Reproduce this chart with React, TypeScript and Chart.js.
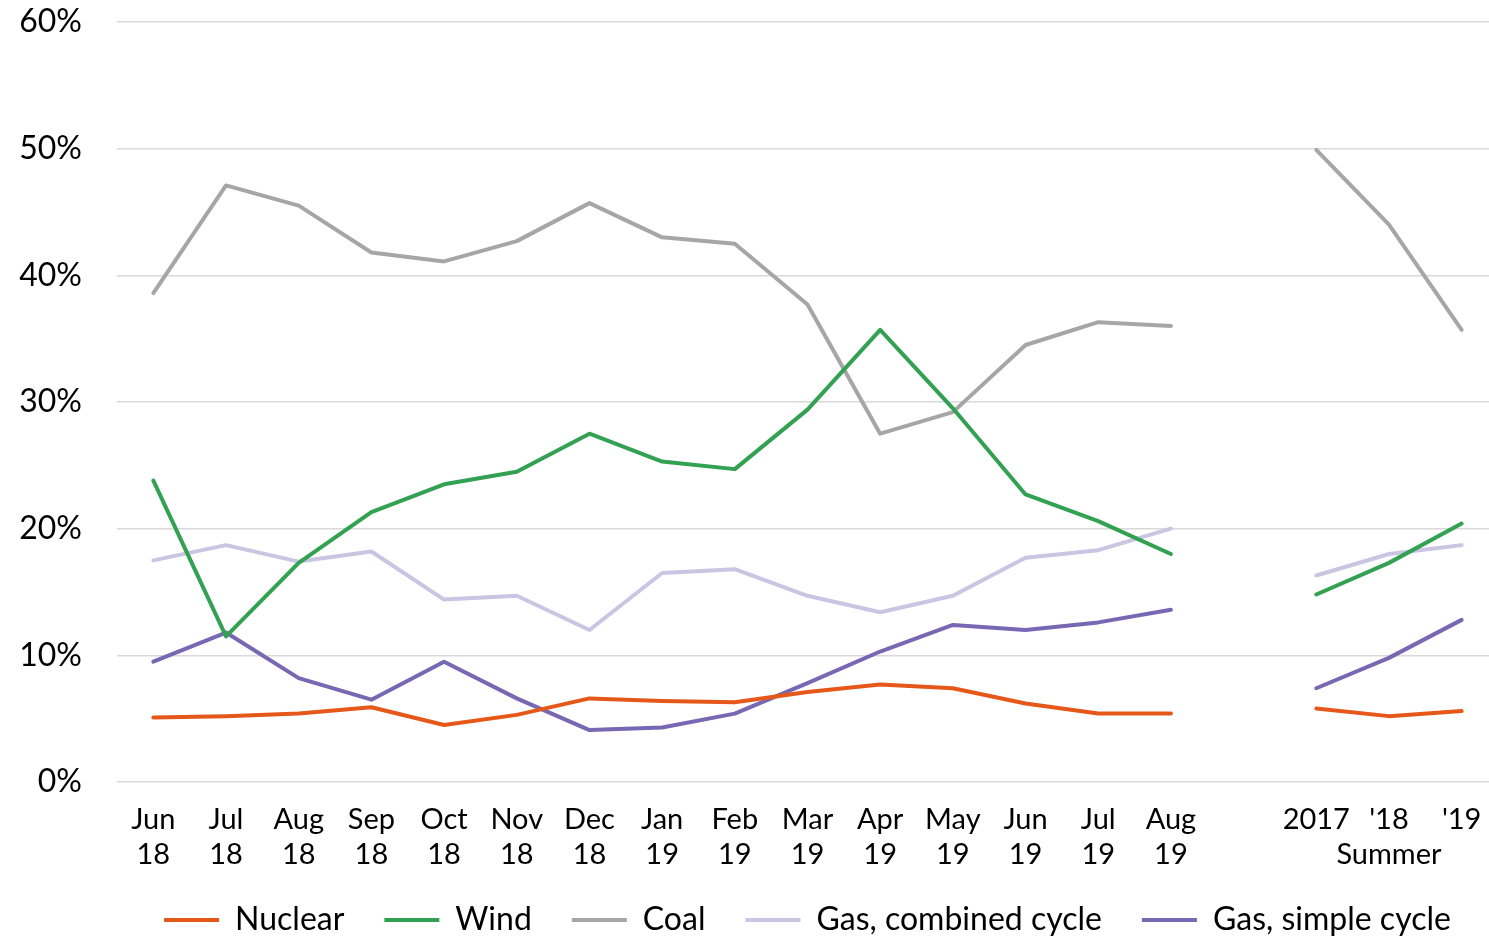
import React, { useEffect, useRef } from "react";
import { Chart, registerables } from "chart.js";

Chart.register(...registerables);

const categories: (string | string[])[] = [
  ["Jun", "18"], ["Jul", "18"], ["Aug", "18"], ["Sep", "18"], ["Oct", "18"],
  ["Nov", "18"], ["Dec", "18"], ["Jan", "19"], ["Feb", "19"], ["Mar", "19"],
  ["Apr", "19"], ["May", "19"], ["Jun", "19"], ["Jul", "19"], ["Aug", "19"],
  "",
  "2017", ["'18", "Summer"], "'19",
];

const nuclear = [5.1, 5.2, 5.4, 5.9, 4.5, 5.3, 6.6, 6.4, 6.3, 7.1, 7.7, 7.4, 6.2, 5.4, 5.4, null, 5.8, 5.2, 5.6];
const wind = [23.8, 11.5, 17.3, 21.3, 23.5, 24.5, 27.5, 25.3, 24.7, 29.4, 35.7, 29.5, 22.7, 20.6, 18.0, null, 14.8, 17.3, 20.4];
const coal = [38.6, 47.1, 45.5, 41.8, 41.1, 42.7, 45.7, 43.0, 42.5, 37.7, 27.5, 29.2, 34.5, 36.3, 36.0, null, 49.9, 44.0, 35.7];
const gasCombined = [17.5, 18.7, 17.4, 18.2, 14.4, 14.7, 12.0, 16.5, 16.8, 14.7, 13.4, 14.7, 17.7, 18.3, 20.0, null, 16.3, 18.0, 18.7];
const gasSimple = [9.5, 11.8, 8.2, 6.5, 9.5, 6.6, 4.1, 4.3, 5.4, 7.8, 10.3, 12.4, 12.0, 12.6, 13.6, null, 7.4, 9.8, 12.8];

const yTicks = [0, 10, 20, 30, 40, 50, 60];

const FONT = "Lato, 'Noto Sans', sans-serif";

export default function App() {
  const ref = useRef<HTMLCanvasElement | null>(null);

  useEffect(() => {
    document.body.style.margin = "0";
    const ctx = ref.current;
    if (!ctx) return;
    const mk = (label: string, data: (number | null)[], color: string) => ({
      label,
      data,
      borderColor: color,
      backgroundColor: color,
      borderWidth: 4,
      pointRadius: 0,
      pointHoverRadius: 0,
      tension: 0,
      spanGaps: false,
      borderCapStyle: "round" as const,
      borderJoinStyle: "round" as const,
      fill: false,
    });
    const chart = new Chart(ctx, {
      type: "line",
      data: {
        labels: categories,
        datasets: [
          mk("Nuclear", nuclear, "#E5581A"),
          mk("Wind", wind, "#32A152"),
          mk("Coal", coal, "#A6A6A6"),
          mk("Gas, combined cycle", gasCombined, "#C9C5E2"),
          mk("Gas, simple cycle", gasSimple, "#7668B3"),
        ],
      },
      options: {
        animation: false,
        responsive: true,
        maintainAspectRatio: false,
        layout: { padding: { top: 22, right: 0, left: 0, bottom: -8 } },
        plugins: {
          tooltip: { enabled: false },
          legend: {
            position: "bottom",
            fullSize: false,
            labels: {
              usePointStyle: true,
              pointStyle: "line",
              pointStyleWidth: 55,
              padding: 40,
              color: "#000",
              font: { family: FONT, size: 32 },
            },
          },
        },
        scales: {
          x: {
            offset: true,
            grid: { display: false },
            border: { display: false },
            ticks: {
              autoSkip: false,
              maxRotation: 0,
              minRotation: 0,
              padding: 12,
              color: "#000",
              font: { family: FONT, size: 29, lineHeight: 1.2 },
            },
            afterFit: (s: any) => { s.height = 82; },
          },
          y: {
            min: 0,
            max: 60,
            grid: {
              color: "#D9D9D9",
              lineWidth: 1.5,
              drawTicks: true,
              tickLength: 33,
              tickColor: "rgba(0,0,0,0)",
            },
            border: { display: false },
            afterBuildTicks: (s: any) => { s.ticks = yTicks.map((v) => ({ value: v })); },
            afterFit: (s: any) => { s.width = 117; },
            ticks: {
              padding: 2,
              color: "#000",
              font: { family: FONT, size: 32 },
              callback: (v: any) => `${v}%`,
            },
          },
        },
      },
    });
    return () => chart.destroy();
  }, []);

  return (
    <div style={{ width: 1489, height: 938, overflow: "hidden" }}>
      <div style={{ width: 1498, height: 938, position: "relative" }}>
        <canvas ref={ref} />
      </div>
    </div>
  );
}
